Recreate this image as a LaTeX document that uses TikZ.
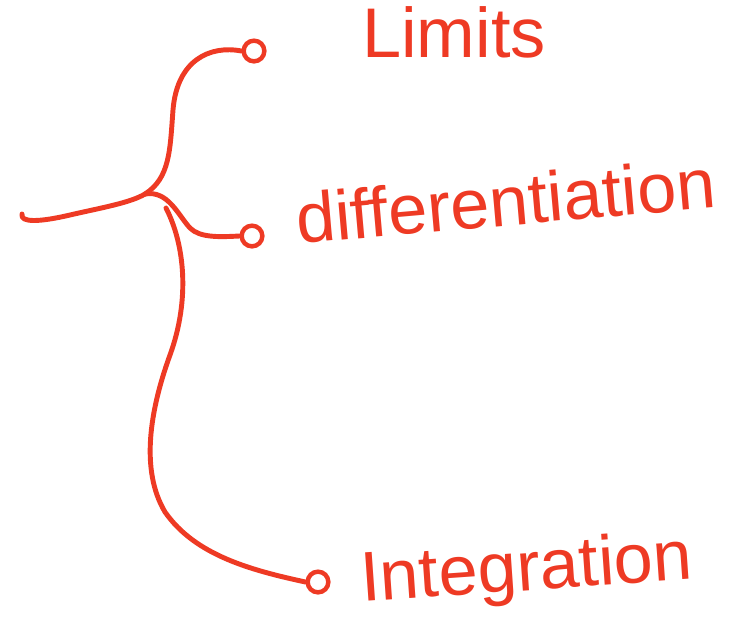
\documentclass[tikz,border=0pt]{standalone}
\usepackage{fontspec}
\setmainfont{Liberation Sans}
\usepackage{tikz}
\usepackage{xcolor}
\definecolor{inkred}{RGB}{238,58,36}

\begin{document}
\begin{tikzpicture}[
    x=0.03cm,
    y=-0.03cm,
    ink/.style={draw=inkred,line width=4.2pt,line cap=round,line join=round},
    endloop/.style={circle,draw=inkred,line width=3.8pt,inner sep=0pt,minimum size=0.62cm},
    topic/.style={text=inkred,font=\fontsize{60}{64}\selectfont,anchor=base west,inner sep=0pt}
]
\useasboundingbox (0,0) rectangle (742,630);

% End loops of the three branches.
\node[endloop] (limloop) at (254,51) {};
\node[endloop] (difloop) at (252,236) {};
\node[endloop] (intloop) at (318,582) {};

% Topic labels.
\node[topic] (limits) at (362,57) {Limits};
\node[topic,rotate=5] (diff) at (298,244) {differentiation};
\node[topic,rotate=4] (integ) at (362,602) {Integration};

% Stem and fork.
\coordinate (start) at (22,214);
\coordinate (fork) at (145,194);
\coordinate (lowtop) at (166,208);
\draw[ink] (start) .. controls (20,223) and (40,222) .. (70,215)
    .. controls (100,208) and (130,203) .. (fork);

% Branches.
\draw[ink] (fork) .. controls (170,178) and (170,150) .. (173,110)
    .. controls (177,60) and (210,45) .. (limloop.west);
\draw[ink] (fork) .. controls (168,190) and (178,215) .. (190,228)
    .. controls (200,238) and (220,237) .. (difloop.west);
\draw[ink] (lowtop) .. controls (185,245) and (190,300) .. (170,355)
    .. controls (150,410) and (140,470) .. (165,512)
    .. controls (195,555) and (250,570) .. (intloop.west);

\end{tikzpicture}
\end{document}
